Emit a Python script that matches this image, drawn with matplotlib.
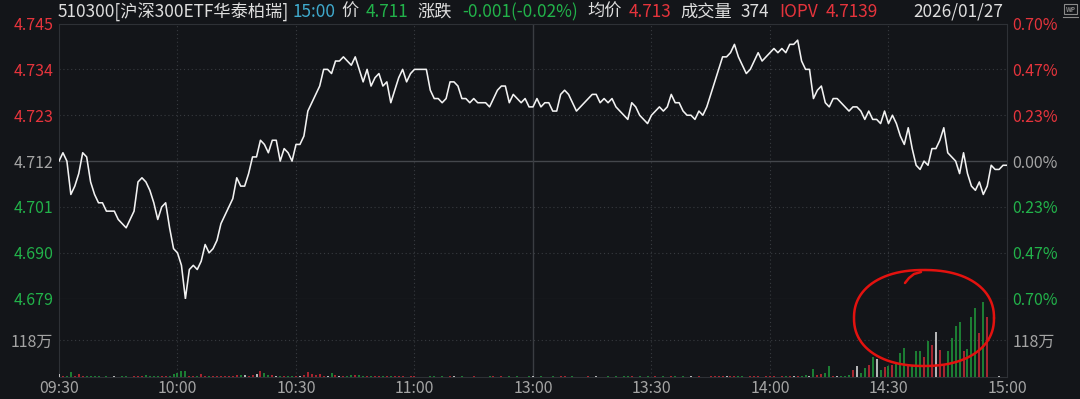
import numpy as np
import matplotlib.pyplot as plt

plt.rcParams['font.family'] = ['Noto Sans CJK SC', 'DejaVu Sans']

# intraday data, one point per minute (09:30-11:30, 13:00-15:00)
prev_close = 4.712
price = [
    4.712, 4.714, 4.712, 4.704, 4.706, 4.709, 4.714, 4.713, 4.707, 4.704,
    4.702, 4.702, 4.700, 4.700, 4.700, 4.698, 4.697, 4.696, 4.698, 4.700,
    4.707, 4.708, 4.707, 4.705, 4.702, 4.698, 4.701, 4.702, 4.696, 4.691,
    4.690, 4.687, 4.679, 4.686, 4.687, 4.686, 4.688, 4.692, 4.690, 4.691,
    4.693, 4.697, 4.699, 4.701, 4.703, 4.708, 4.706, 4.706, 4.709, 4.713,
    4.713, 4.717, 4.716, 4.714, 4.717, 4.717, 4.712, 4.715, 4.714, 4.712,
    4.716, 4.716, 4.718, 4.724, 4.726, 4.728, 4.730, 4.734, 4.734, 4.733,
    4.736, 4.736, 4.737, 4.736, 4.735, 4.737, 4.734, 4.731, 4.734, 4.730,
    4.732, 4.733, 4.730, 4.731, 4.726, 4.729, 4.732, 4.734, 4.731, 4.733,
    4.734, 4.734, 4.734, 4.734, 4.729, 4.727, 4.727, 4.726, 4.727, 4.731,
    4.731, 4.730, 4.727, 4.727, 4.726, 4.727, 4.726, 4.726, 4.726, 4.725,
    4.727, 4.729, 4.730, 4.730, 4.726, 4.728, 4.727, 4.726, 4.727, 4.725,
    4.725, 4.727, 4.725, 4.726, 4.726, 4.724, 4.724, 4.728, 4.729, 4.728,
    4.726, 4.724, 4.725, 4.726, 4.727, 4.728, 4.728, 4.726, 4.727, 4.726,
    4.727, 4.725, 4.724, 4.723, 4.722, 4.726, 4.725, 4.723, 4.722, 4.721,
    4.723, 4.724, 4.725, 4.724, 4.725, 4.728, 4.726, 4.726, 4.724, 4.723,
    4.723, 4.722, 4.724, 4.723, 4.725, 4.728, 4.731, 4.734, 4.737, 4.737,
    4.738, 4.740, 4.737, 4.735, 4.733, 4.734, 4.736, 4.738, 4.736, 4.737,
    4.738, 4.739, 4.738, 4.739, 4.738, 4.740, 4.740, 4.741, 4.736, 4.734,
    4.734, 4.727, 4.729, 4.730, 4.726, 4.725, 4.727, 4.727, 4.726, 4.725,
    4.724, 4.725, 4.725, 4.724, 4.722, 4.724, 4.722, 4.722, 4.721, 4.724,
    4.721, 4.723, 4.721, 4.718, 4.716, 4.720, 4.715, 4.711, 4.710, 4.712,
    4.711, 4.715, 4.715, 4.717, 4.720, 4.714, 4.713, 4.712, 4.709, 4.714,
    4.709, 4.706, 4.705, 4.707, 4.704, 4.706, 4.711, 4.710, 4.710, 4.711,
    4.711,
]

# volume per minute, in 万
volume = [
    10, 3, 2, 16, 3, 9, 4, 2, 3, 2,
    2, 1, 2, 1, 2, 1, 2, 2, 1, 2,
    3, 4, 7, 4, 2, 3, 2, 3, 4, 10,
    14, 18, 20, 4, 3, 2, 8, 3, 2, 3,
    2, 4, 3, 3, 4, 6, 5, 6, 4, 6,
    8, 18, 14, 6, 7, 4, 3, 3, 2, 4,
    3, 3, 5, 16, 8, 6, 10, 4, 3, 12,
    5, 3, 4, 3, 7, 6, 5, 4, 3, 2,
    2, 3, 2, 2, 4, 2, 2, 3, 1, 2,
    2, 1, 1, 1, 3, 2, 1, 2, 1, 3,
    2, 1, 2, 1, 1, 2, 1, 1, 1, 2,
    2, 1, 3, 1, 2, 1, 2, 1, 1, 2,
    2, 1, 2, 1, 1, 2, 1, 3, 2, 1,
    2, 1, 1, 1, 2, 1, 3, 1, 1, 2,
    1, 2, 1, 2, 2, 3, 1, 2, 1, 2,
    1, 3, 1, 2, 1, 3, 2, 1, 2, 1,
    2, 1, 2, 1, 1, 2, 3, 4, 3, 2,
    3, 4, 2, 2, 1, 2, 3, 2, 1, 3,
    2, 3, 1, 2, 2, 3, 2, 4, 3, 6,
    4, 26, 5, 8, 12, 35, 4, 3, 4, 4,
    5, 22, 35, 12, 29, 37, 65, 56, 22, 33,
    35, 37, 47, 76, 92, 35, 35, 84, 84, 64,
    115, 103, 144, 87, 40, 82, 125, 163, 176, 82,
    89, 192, 219, 141, 240, 192, 0, 0, 3, 0,
    0,
]

time_ticks = [0, 30, 60, 90, 120, 150, 180, 210, 240]
time_labels = ['09:30', '10:00', '10:30', '11:00', '13:00', '13:30', '14:00', '14:30', '15:00']
price_levels = [4.745, 4.734, 4.723, 4.712, 4.701, 4.690, 4.679]
price_labels = ['4.745', '4.734', '4.723', '4.712', '4.701', '4.690', '4.679']
pct_labels = ['0.70%', '0.47%', '0.23%', '0.00%', '0.23%', '0.47%', '0.70%']
vol_level = 118
vol_label = '118万'

header = [
    ('510300[沪深300ETF华泰柏瑞]', 'w'), ('15:00', 'c'), ('价', 'w'), ('4.711', 'g'),
    ('涨跌', 'w'), ('-0.001(-0.02%)', 'g'), ('均价', 'w'), ('4.713', 'r'),
    ('成交量', 'w'), ('374', 'w'), ('IOPV', 'r'), ('4.7139', 'r'), ('2026/01/27', 'w'),
]
header_x = [58, 292, 341, 366, 417, 462, 587, 629, 680, 741, 779, 826, 913]

BG = '#131519'
GRID = '#383b40'
FRAME = '#2e3136'
RED = '#e5343c'
GREEN = '#22b24a'
GRAY = '#a4a4a4'
WHITE = '#dedede'
CYAN = '#3fa9cc'
FS = 11.5
FS_HEAD = 12.4

W, H = 1080, 399


def box(l, t, r, b):
    return [l / W, 1 - b / H, (r - l) / W, (b - t) / H]


fig = plt.figure(figsize=(W / 100, H / 100), dpi=100, facecolor=BG)
ax = fig.add_axes(box(59, 23.5, 1007, 298.7))
axv = fig.add_axes(box(59, 298.7, 1007, 377))

x = np.arange(len(price))
n_min = 240

# price panel
ax.set_facecolor(BG)
ax.set_xlim(0, n_min)
ax.set_ylim(price_levels[-1], price_levels[0])
for lv in price_levels[1:-1]:
    if lv == prev_close:
        ax.axhline(lv, color='#44474c', lw=1.0, zorder=1)
    else:
        ax.axhline(lv, color=GRID, lw=0.8, ls=(0, (1, 2.5)), zorder=1)
for t in time_ticks[1:-1]:
    if t == 120:
        ax.axvline(t, color='#3a3d42', lw=1.0, zorder=1)
        axv.axvline(t, color='#3a3d42', lw=1.0, zorder=1)
    else:
        ax.axvline(t, color=GRID, lw=0.8, ls=(0, (1, 2.5)), zorder=1)
        axv.axvline(t, color=GRID, lw=0.8, ls=(0, (1, 2.5)), zorder=1)
ax.plot(x, price, color='#f2f2f2', lw=1.15, zorder=3)

for sp in ax.spines.values():
    sp.set_color(FRAME)
ax.spines['bottom'].set_color('#44474c')
ax.set_xticks([])
ax.set_yticks(price_levels)
ax.set_yticklabels(price_labels, fontsize=FS)
ax.tick_params(axis='y', length=0, pad=4)
lab_cols = [RED if lv > prev_close else GREEN if lv < prev_close else GRAY for lv in price_levels]
for lab, c in zip(ax.get_yticklabels(), lab_cols):
    lab.set_color(c)

axr = ax.twinx()
axr.set_ylim(price_levels[-1], price_levels[0])
axr.set_yticks(price_levels)
axr.set_yticklabels(pct_labels, fontsize=FS)
axr.tick_params(axis='y', length=0, pad=4)
for lab, c in zip(axr.get_yticklabels(), lab_cols):
    lab.set_color(c)
for sp in axr.spines.values():
    sp.set_visible(False)

# volume panel
axv.set_facecolor(BG)
axv.set_xlim(0, n_min)
axv.set_ylim(0, 250)
prev = [prev_close] + price[:-1]
bar_cols = ['#d42a36' if p > q else '#1f9d3c' if p < q else '#e6e6e6' for p, q in zip(price, prev)]
axv.vlines(x, 0, volume, colors=bar_cols, lw=1.1, zorder=3)
axv.axhline(vol_level, color=GRID, lw=0.8, ls=(0, (1, 2.5)), zorder=1)
for sp in axv.spines.values():
    sp.set_color(FRAME)
axv.spines['top'].set_visible(False)
axv.set_yticks([vol_level])
axv.set_yticklabels([vol_label], fontsize=FS, color=GRAY)
axv.tick_params(axis='y', length=0, pad=4)
axv.set_xticks(time_ticks)
axv.set_xticklabels(time_labels, fontsize=FS, color=GRAY)
axv.tick_params(axis='x', length=0, pad=2)
axvr = axv.twinx()
axvr.set_ylim(0, 250)
axvr.set_yticks([vol_level])
axvr.set_yticklabels([vol_label], fontsize=FS, color=GRAY)
axvr.tick_params(axis='y', length=0, pad=4)
for sp in axvr.spines.values():
    sp.set_visible(False)

# overlay in pixel coordinates: header, icon, hand drawn circle
ov = fig.add_axes([0, 0, 1, 1])
ov.set_xlim(0, W)
ov.set_ylim(H, 0)
ov.axis('off')
col_map = {'w': WHITE, 'c': CYAN, 'g': GREEN, 'r': RED}
for (txt, c), hx in zip(header, header_x):
    ov.text(hx, 12, txt, color=col_map[c], fontsize=FS_HEAD, va='center', ha='left')

ov.add_patch(plt.Rectangle((1064, 4), 13, 10, fill=False, ec='#8a8a8a', lw=0.8))
ov.text(1070.5, 9, 'WP', color='#8a8a8a', fontsize=4.5, ha='center', va='center', fontweight='bold')
ov.plot([1063, 1078], [16.5, 16.5], color='#8a8a8a', lw=0.8)

t = np.linspace(0, 2 * np.pi, 300)
ex = 924 + 70 * np.sign(np.cos(t)) * np.abs(np.cos(t)) ** 0.9
ey = 318 + 48 * np.sign(np.sin(t)) * np.abs(np.sin(t)) ** 0.9
ov.plot(ex, ey, color='#e3120f', lw=1.8, solid_capstyle='round')
ov.plot([905, 909, 914, 921], [283, 278, 274, 272], color='#e3120f', lw=1.8, solid_capstyle='round')

fig.savefig('out.png', dpi=100, facecolor=BG)
